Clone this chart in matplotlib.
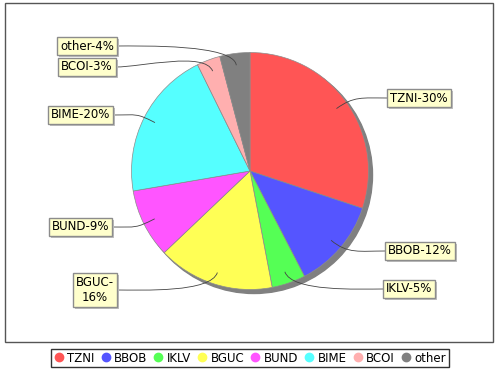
import numpy as np
import matplotlib.pyplot as plt
from matplotlib.patches import Rectangle, Circle, PathPatch
from matplotlib.path import Path
from matplotlib.lines import Line2D

# slice data (clockwise from 12 o'clock)
names = ["TZNI", "BBOB", "IKLV", "BGUC", "BUND", "BIME", "BCOI", "other"]
shares = [30.1, 12.3, 4.6, 15.9, 9.4, 20.4, 3.2, 4.1]
colors = ["#ff5555", "#5555ff", "#55ff55", "#ffff55",
          "#ff55ff", "#55ffff", "#ffafaf", "#808080"]
label_text = ["TZNI-30%", "BBOB-12%", "IKLV-5%", "BGUC-\n16%",
              "BUND-9%", "BIME-20%", "BCOI-3%", "other-4%"]

# label layout in pixels: (edge x where the link meets, center y)
label_pos = [(387, 98), (385, 251), (383, 289), (117, 290),
             (112, 227), (113, 115), (116, 67), (117, 46)]

W, H = 500, 370
cx, cy, R = 250, 171, 118.5

fig = plt.figure(figsize=(W / 100, H / 100), dpi=100)
ax = fig.add_axes([0, 0, 1, 1])

# plot area border
ax.add_patch(Rectangle((5, 3), 488, 339, fill=False, edgecolor="#555555", lw=1))

# pie shadow
ax.add_patch(Circle((cx + 4, cy + 4), R, color="#808080", zorder=1))

wedges, _ = ax.pie(shares, colors=colors, startangle=-90, counterclock=True,
                   center=(cx, cy), radius=R, frame=True,
                   wedgeprops=dict(edgecolor="#8c8c8c", linewidth=0.5, zorder=2))
ax.set_xlim(0, W)
ax.set_ylim(H, 0)
ax.set_aspect("equal")
ax.axis("off")

total = sum(shares)
cum = np.cumsum([0] + shares[:-1])
fs = 8.5
labels = []
for i, name in enumerate(names):
    mid = (cum[i] + shares[i] / 2) / total * 2 * np.pi
    dx, dy = np.sin(mid), -np.cos(mid)
    ax0 = (cx + 0.9 * R * dx, cy + 0.9 * R * dy)
    p1 = (cx + 1.08 * R * dx, cy + 1.08 * R * dy)
    ex, ey = label_pos[i]
    right = dx > 0
    p2 = (ex - 25, ey) if right else (ex + 25, ey)
    path = Path([ax0, p1, p2, (ex, ey)],
                [Path.MOVETO, Path.CURVE4, Path.CURVE4, Path.CURVE4])
    ax.add_patch(PathPatch(path, fill=False, edgecolor="#444444", lw=0.6, zorder=3))

    ha = "left" if right else "right"
    tx = ex + 3 if right else ex - 3
    box = dict(boxstyle="square,pad=0.25", facecolor="#ffffcc",
               edgecolor="#8c8c8c", lw=1)
    t = ax.text(tx, ey, label_text[i], ha=ha, va="center", fontsize=fs,
                color="black", bbox=box, multialignment="center", zorder=5)
    labels.append(t)

# label box shadows, placed from the drawn boxes
fig.canvas.draw()
inv = ax.transData.inverted()
for t in labels:
    bb = t.get_bbox_patch().get_window_extent()
    (x0, y0), (x1, y1) = inv.transform([(bb.x0, bb.y0), (bb.x1, bb.y1)])
    ax.add_patch(Rectangle((min(x0, x1) + 2, min(y0, y1) + 2), abs(x1 - x0),
                           abs(y1 - y0), facecolor="#c0c0c0", edgecolor="none",
                           zorder=4))

handles = [Line2D([], [], marker="o", ls="none", markersize=6,
                  markerfacecolor=c, markeredgecolor=c) for c in colors]
leg = fig.legend(handles, names, loc="center", ncol=len(names),
                 bbox_to_anchor=(0.5, (H - 358) / H), fontsize=8.5,
                 frameon=True, fancybox=False, handlelength=0.8,
                 handletextpad=0.3, columnspacing=0.55, borderpad=0.25,
                 borderaxespad=0)
leg.get_frame().set_edgecolor("black")
leg.get_frame().set_linewidth(1)

fig.savefig("out.png", dpi=100)
